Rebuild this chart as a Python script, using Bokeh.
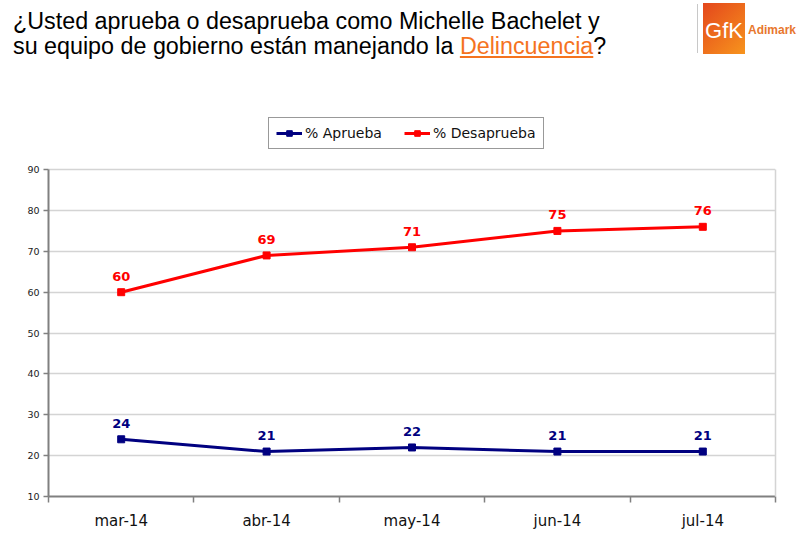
import numpy as np
from bokeh.plotting import figure
from bokeh.models import Range1d, FixedTicker, Legend, LegendItem, ColumnDataSource, Div, LinearAxis
from bokeh.layouts import column
from bokeh.core.properties import value
from bokeh.embed import file_html
from bokeh.resources import INLINE

# ---- data ----
months = ["mar-14", "abr-14", "may-14", "jun-14", "jul-14"]
aprueba = [24, 21, 22, 21, 21]
desaprueba = [60, 69, 71, 75, 76]
y_ticks = [10, 20, 30, 40, 50, 60, 70, 80, 90]
Y_MIN, Y_MAX = 10, 90
Y_HEADROOM = 103   # extra frame space above the axis for the legend

BLUE = "#000080"
RED = "#ff0000"
FONT = "DejaVu Sans"

xpos = list(range(1, len(months) + 1))
src_a = ColumnDataSource(dict(x=xpos, y=aprueba, t=[str(v) for v in aprueba]))
src_d = ColumnDataSource(dict(x=xpos, y=desaprueba, t=[str(v) for v in desaprueba]))

header_html = """
<div style="position:relative;width:792px;height:101px;font-family:'Liberation Sans',Arial,sans-serif;">
 <div style="position:absolute;left:13px;top:9px;font-size:23.3px;line-height:25px;color:#000;white-space:nowrap;">¿Usted aprueba o desaprueba como Michelle Bachelet y<br>su equipo de gobierno están manejando la <span style="color:#f5731e;text-decoration:underline;">Delincuencia</span>?</div>
 <div style="position:absolute;left:697px;top:4px;width:1px;height:49px;background:#c8c8c8;"></div>
 <div style="position:absolute;left:703px;top:3px;width:42px;height:51px;background:linear-gradient(135deg,#e4471c,#f7941d);"></div>
 <div style="position:absolute;left:703px;top:15px;width:42px;text-align:center;color:#fff;font-size:22px;">GfK</div>
 <div style="position:absolute;left:748px;top:22px;color:#e8772e;font-size:12px;font-weight:bold;">Adimark</div>
</div>
"""
header = Div(text=header_html, width=792, height=101, margin=0)

p = figure(width=792, height=445, output_backend="svg", toolbar_location=None,
           x_range=Range1d(0.5, len(months) + 0.5), y_range=Range1d(Y_MIN, Y_HEADROOM),
           min_border_left=48, min_border_right=17, min_border_top=15, min_border_bottom=50)
p.outline_line_color = None
p.background_fill_color = "white"
p.border_fill_color = "white"

# grid
p.xgrid.visible = False
p.ygrid.ticker = FixedTicker(ticks=y_ticks)
p.ygrid.grid_line_color = "#d4d4d4"
p.ygrid.grid_line_width = 1.5

# y axis
p.yaxis.ticker = FixedTicker(ticks=y_ticks)
p.yaxis.bounds = (Y_MIN, Y_MAX)
p.yaxis.axis_line_color = "#808080"
p.yaxis.axis_line_width = 2
p.yaxis.major_tick_line_color = "#808080"
p.yaxis.major_tick_line_width = 1.5
p.yaxis.major_tick_out = 5
p.yaxis.major_tick_in = 0
p.yaxis.minor_tick_line_color = None
p.yaxis.major_label_text_font = FONT
p.yaxis.major_label_text_font_size = "9.5px"
p.yaxis.major_label_text_color = "#1a1a1a"
p.yaxis.major_label_standoff = 4

# right border as a bare axis line
raxis = LinearAxis(bounds=(Y_MIN, Y_MAX), ticker=FixedTicker(ticks=[]),
                   axis_line_color="#d4d4d4", axis_line_width=1.5,
                   major_tick_line_color=None, minor_tick_line_color=None,
                   major_label_text_font_size="0px")
p.add_layout(raxis, "right")

# x axis: labels at centres, ticks at band boundaries
boundaries = [i + 0.5 for i in range(0, len(months) + 1)]
p.xaxis.ticker = FixedTicker(ticks=xpos, minor_ticks=boundaries)
p.xaxis.major_label_overrides = {x: m for x, m in zip(xpos, months)}
p.xaxis.axis_line_color = "#808080"
p.xaxis.axis_line_width = 2
p.xaxis.major_tick_out = 0
p.xaxis.major_tick_in = 0
p.xaxis.minor_tick_out = 6
p.xaxis.minor_tick_in = 0
p.xaxis.minor_tick_line_color = "#808080"
p.xaxis.minor_tick_line_width = 1.5
p.xaxis.major_label_text_font = FONT
p.xaxis.major_label_text_font_size = "15px"
p.xaxis.major_label_text_color = "#111111"
p.xaxis.major_label_standoff = 9

# series
la = p.line("x", "y", source=src_a, line_color=BLUE, line_width=3)
sa = p.scatter("x", "y", source=src_a, marker="square", size=7, fill_color=BLUE, line_color=BLUE)
ld = p.line("x", "y", source=src_d, line_color=RED, line_width=3)
sd = p.scatter("x", "y", source=src_d, marker="square", size=7, fill_color=RED, line_color=RED)

# data labels
for src, col in ((src_a, BLUE), (src_d, RED)):
    p.text("x", "y", text="t", source=src, text_color=col, text_font=value(FONT),
           text_font_style="bold", text_font_size="13px", text_align="center",
           text_baseline="middle", y_offset=-16)

legend = Legend(items=[LegendItem(label="% Aprueba", renderers=[la, sa]),
                       LegendItem(label="% Desaprueba", renderers=[ld, sd])],
                orientation="horizontal", location=(220, 347))
legend.border_line_color = "#333333"
legend.border_line_width = 1
legend.background_fill_color = "white"
legend.padding = 7
legend.margin = 0
legend.spacing = 22
legend.glyph_width = 26
legend.glyph_height = 14
legend.label_height = 14
legend.label_standoff = 3
legend.label_text_font = FONT
legend.label_text_font_size = "14px"
legend.label_text_color = "#111111"
legend.label_text_baseline = "middle"
p.add_layout(legend, "center")

layout = column(header, p, spacing=0)
open("out.html", "w").write(file_html(layout, INLINE))
